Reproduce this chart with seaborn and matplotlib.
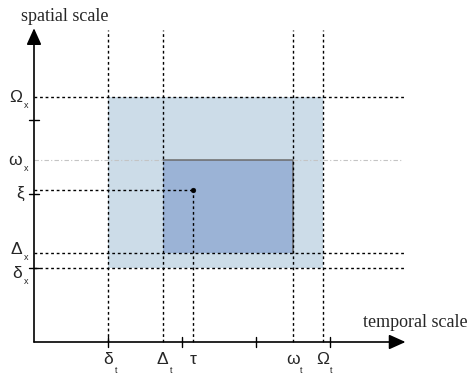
import matplotlib
matplotlib.use("Agg")
import matplotlib.pyplot as plt
import seaborn as sns
import pandas as pd

sns.set_style("white")

# temporal scale (x) and spatial scale (y), 1 unit = one tick step
t_names = ["δ", "Δ", "ω", "Ω"]
t_values = [1.0, 1.74, 3.5, 3.9]
x_names = ["δ", "Δ", "ω", "Ω"]
x_values = [1.0, 1.2, 2.46, 3.31]
tau = 2.15
xi = 2.05
t_ticks = [1, 2, 3, 4]
x_ticks = [1, 2, 3]

d_t, D_t, w_t, W_t = t_values
d_x, D_x, w_x, W_x = x_values

fig = plt.figure(figsize=(4.72, 3.74), dpi=100)
ax = fig.add_axes([0, 0, 1, 1])
ax.set_xlim(-34 / 74, 438 / 74)
ax.set_ylim(-32 / 74, 342 / 74)

x_end, y_end = 5.0, 4.22

# outer and inner rectangles
ax.fill_between([d_t, W_t], d_x, W_x, color="#ccdce8", lw=0, zorder=1)
ax.fill_between([D_t, w_t], D_x, w_x, color="#9bb3d6", lw=0, zorder=2)
ax.plot([D_t, w_t, w_t], [w_x, w_x, D_x], color="#6b6b6b", lw=1.1, zorder=3)

dot = dict(color="black", lw=1, linestyle=(0, (2, 2)), zorder=4)
for v in [d_t, D_t, w_t, W_t]:
    ax.plot([v, v], [0, y_end], **dot)
for v in [d_x, D_x, W_x]:
    ax.plot([0, x_end], [v, v], **dot)
gray = dict(color="#c4c4c4", lw=0.8, linestyle=(0, (4, 2, 1, 2)), zorder=3)
ax.plot([0, D_t], [w_x, w_x], **gray)
ax.plot([w_t, x_end - 0.03], [w_x, w_x], **gray)
ax.plot([0, tau], [xi, xi], **dot)
ax.plot([tau, tau], [0, xi], **dot)

pt = pd.DataFrame({"t": [tau], "x": [xi]})
sns.scatterplot(data=pt, x="t", y="x", color="black", s=12, edgecolor="black", ax=ax, zorder=6)
ax.axis("off")

# axes with arrows
arrow = dict(arrowstyle="-|>,head_length=1.0,head_width=0.45", color="black",
             lw=1.2, mutation_scale=10, shrinkA=0, shrinkB=0)
ax.annotate("", xy=(x_end + 0.02, 0), xytext=(0, 0), arrowprops=arrow, zorder=7)
ax.annotate("", xy=(0, y_end + 0.02), xytext=(0, 0), arrowprops=arrow, zorder=7)

tk = 0.07
for v in t_ticks:
    ax.plot([v, v], [-tk, tk], color="black", lw=1, zorder=7)
for v in x_ticks:
    ax.plot([-tk, tk], [v, v], color="black", lw=1, zorder=7)

serif = dict(family="Liberation Serif", fontsize=13)
ax.text(-0.17, 4.40, "spatial scale", ha="left", va="center", **serif)
ax.text(4.45, 0.27, "temporal scale", ha="left", va="center", **serif)

sans = dict(family="Liberation Sans", fontsize=12.5)
sub = dict(family="Liberation Sans", fontsize=6.5)
for name, v in zip(t_names, t_values):
    ax.text(v, -0.13, name, ha="center", va="top", **sans)
    ax.text(v + 0.1, -0.33, "t", ha="left", va="top", **sub)
ax.text(tau, -0.13, "τ", ha="center", va="top", **sans)
x_shift = {"δ": -0.06, "Δ": 0.06, "ω": 0.0, "Ω": 0.0}
for name, v in zip(x_names, x_values):
    c = v + x_shift[name]
    ax.text(-0.16, c - 0.01, name, ha="right", va="center", **sans)
    ax.text(-0.14, c - 0.12, "x", ha="left", va="center", **sub)
ax.text(-0.13, xi - 0.04, "ξ", ha="right", va="center", **sans)

fig.savefig("out.png", dpi=100)
